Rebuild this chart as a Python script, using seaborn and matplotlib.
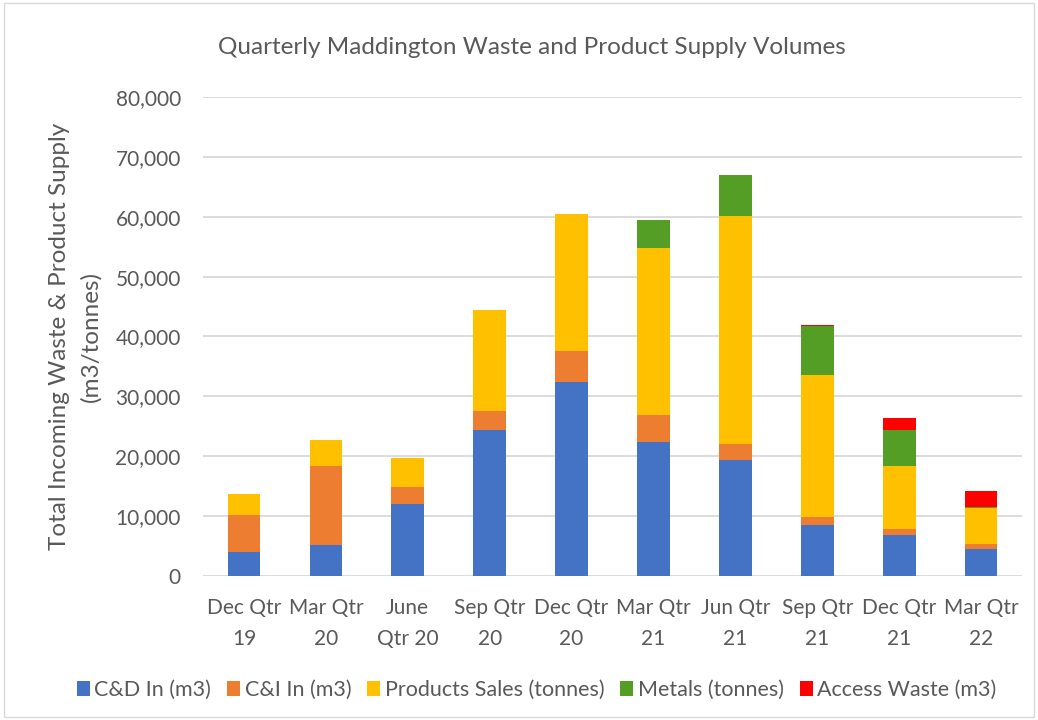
import numpy as np
import pandas as pd
import matplotlib
matplotlib.use("Agg")
import matplotlib.pyplot as plt
import seaborn as sns
from matplotlib.patches import Rectangle, Patch
from matplotlib.ticker import FuncFormatter

categories = ["Dec Qtr\n19", "Mar Qtr\n20", "June\nQtr 20", "Sep Qtr\n20", "Dec Qtr\n20",
              "Mar Qtr\n21", "Jun Qtr\n21", "Sep Qtr\n21", "Dec Qtr\n21", "Mar Qtr\n22"]
cd_in = [4000, 5200, 12100, 24450, 32400, 22450, 19300, 8500, 6850, 4500]
ci_in = [6200, 13100, 2700, 3050, 5200, 4500, 2700, 1350, 1000, 900]
products = [3500, 4400, 4900, 16900, 22900, 27750, 38100, 23650, 10550, 5900]
metals = [0, 0, 0, 0, 0, 4800, 6800, 8300, 5900, 250]
access = [0, 0, 0, 0, 0, 0, 0, 150, 2150, 2650]

series_names = ["C&D In (m3)", "C&I In (m3)", "Products Sales (tonnes)", "Metals (tonnes)", "Access Waste (m3)"]
series_vals = [cd_in, ci_in, products, metals, access]
colors = ["#4472C4", "#ED7D31", "#FFC000", "#549E25", "#FF0000"]

sns.set_theme(style="white")
plt.rcParams["font.family"] = ["Lato", "DejaVu Sans"]
text_color = "#595959"

fig = plt.figure(figsize=(10.38, 7.2), dpi=100)
ax = fig.add_axes([0.1956, 0.2, 0.789, 0.6653])

bottom = np.zeros(len(categories))
for name, vals, col in zip(series_names, series_vals, colors):
    df = pd.DataFrame({"cat": categories, "val": vals})
    sns.barplot(data=df, x="cat", y="val", color=col, bottom=bottom.copy(), saturation=1,
                width=0.4, linewidth=0, ax=ax, zorder=3, errorbar=None)
    bottom += np.array(vals, dtype=float)

ax.set_ylim(0, 80000)
ax.set_yticks(np.arange(0, 80001, 10000))
ax.yaxis.set_major_formatter(FuncFormatter(lambda v, p: f"{int(v):,}"))
ax.grid(axis="y", color="#D9D9D9", linewidth=1.3, zorder=0)
ax.grid(axis="x", visible=False)
for s in ax.spines.values():
    s.set_visible(False)
ax.tick_params(axis="both", length=0, labelsize=15, colors=text_color)
ax.tick_params(axis="x", pad=16)
ax.tick_params(axis="y", pad=16)
for lbl in ax.get_xticklabels():
    lbl.set_linespacing(1.7)
ax.set_xlabel("")
ax.set_ylabel("Total Incoming Waste & Product Supply\n(m3/tonnes)", fontsize=17.5,
              color=text_color, labelpad=10, linespacing=1.55)
ax.set_xlim(-0.5, len(categories) - 0.5)

fig.text(0.512, 0.934, "Quarterly Maddington Waste and Product Supply Volumes",
         ha="center", va="center", fontsize=17.5, color=text_color)

handles = [Patch(facecolor=c, edgecolor="none") for c in colors]
fig.legend(handles, series_names, loc="center", bbox_to_anchor=(0.517, 0.042), ncol=5,
           frameon=False, fontsize=15.5, handlelength=0.6, handleheight=0.7,
           handletextpad=0.2, columnspacing=0.75, labelcolor=text_color)

fig.patches.append(Rectangle((0.004, 0.004), 0.992, 0.992, transform=fig.transFigure,
                             fill=False, edgecolor="#D9D9D9", linewidth=1))

fig.savefig("out.png", dpi=100)
